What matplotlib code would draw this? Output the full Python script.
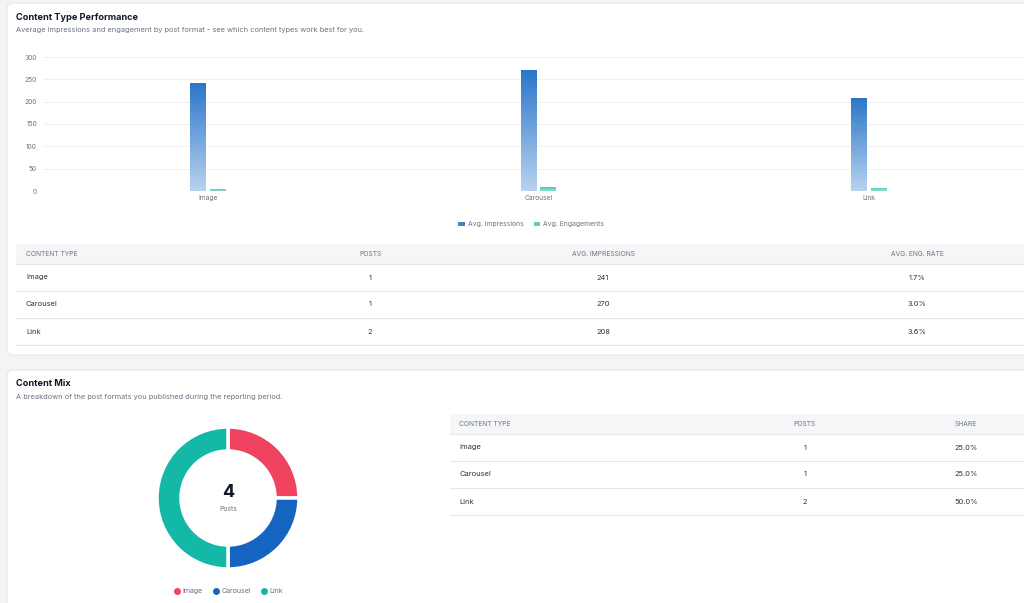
import matplotlib.pyplot as plt
import numpy as np
from matplotlib.colors import LinearSegmentedColormap
from matplotlib.patches import FancyBboxPatch, Rectangle, Patch
from matplotlib.lines import Line2D

plt.rcParams["font.family"] = ["Inter", "DejaVu Sans"]

# Data
content_types = ["Image", "Carousel", "Link"]
posts = [1, 1, 2]
avg_impressions = [241, 270, 208]
avg_engagements = [4, 8, 7]
eng_rate = ["1.7%", "3.0%", "3.6%"]
share = ["25.0%", "25.0%", "50.0%"]
donut_colors = ["#f0435f", "#1565c0", "#14b8a6"]

W, H = 1024, 603
fig = plt.figure(figsize=(W / 100, H / 100), dpi=100)
fig.patch.set_facecolor("#f3f4f6")

# background axes in pixel coordinates
bg = fig.add_axes([0, 0, 1, 1])
bg.set_xlim(0, W)
bg.set_ylim(H, 0)
bg.axis("off")

dark = "#2b3340"
gray = "#6b7280"
line_c = "#e5e7eb"

for y0, y1 in [(3, 355), (370, 640)]:
    bg.add_patch(FancyBboxPatch((7, y0), 1040, y1 - y0, boxstyle="round,pad=0,rounding_size=6",
                                facecolor="white", edgecolor=line_c, linewidth=0.8))

# card 1 headings
bg.text(16, 17, "Content Type Performance", fontsize=6.6, fontweight="bold", color="#111827", va="center")
bg.text(16, 30, "Average impressions and engagement by post format - see which content types work best for you.",
        fontsize=5.3, color=gray, va="center")

# card 2 headings
bg.text(16, 384, "Content Mix", fontsize=6.6, fontweight="bold", color="#111827", va="center")
bg.text(16, 397, "A breakdown of the post formats you published during the reporting period.",
        fontsize=5.3, color=gray, va="center")


def draw_table(x0, x1, top, header_h, row_h, cols, rows):
    bg.add_patch(Rectangle((x0, top), x1 - x0, header_h, facecolor="#f5f6f8", edgecolor="none"))
    bg.plot([x0, x1], [top + header_h, top + header_h], color=line_c, lw=0.8)
    for (label, xpos, ha) in cols:
        bg.text(xpos, top + header_h / 2, label, fontsize=4.8, color=gray, ha=ha, va="center")
    for i, row in enumerate(rows):
        yc = top + header_h + row_h * (i + 0.5)
        for (label, xpos, ha), val in zip(cols, row):
            bg.text(xpos, yc, val, fontsize=5.4, color=dark, ha=ha, va="center")
        yl = top + header_h + row_h * (i + 1)
        bg.plot([x0, x1], [yl, yl], color=line_c, lw=0.8)


rows1 = [[t, str(p), str(a), r] for t, p, a, r in zip(content_types, posts, avg_impressions, eng_rate)]
draw_table(16, 1024, 244, 20, 27,
           [("CONTENT TYPE", 26, "left"), ("POSTS", 370, "center"),
            ("AVG. IMPRESSIONS", 603, "center"), ("AVG. ENG. RATE", 917, "center")], rows1)

rows2 = [[t, str(p), s] for t, p, s in zip(content_types, posts, share)]
draw_table(450, 1024, 414, 20, 27,
           [("CONTENT TYPE", 459, "left"), ("POSTS", 805, "center"), ("SHARE", 966, "center")], rows2)

# bar chart
left_px, right_px, top_px, bot_px = 42.5, 1034.5, 57, 191
ax = fig.add_axes([left_px / W, 1 - bot_px / H, (right_px - left_px) / W, (bot_px - top_px) / H])
ax.set_facecolor("none")
x = np.arange(len(content_types))
bw = 0.048
off = 0.03
b1 = ax.bar(x - off, avg_impressions, width=bw, color="none")
b2 = ax.bar(x + off, avg_engagements, width=bw, color="none")

grad = np.linspace(0, 1, 256).reshape(-1, 1)
cmap_imp = LinearSegmentedColormap.from_list("imp", ["#b9d3f0", "#2b76ca"])
cmap_eng = LinearSegmentedColormap.from_list("eng", ["#8fe0d2", "#4cc9b4"])
for bars, cm in [(b1, cmap_imp), (b2, cmap_eng)]:
    for p in bars:
        bx, by = p.get_x(), p.get_y()
        im = ax.imshow(grad, extent=[bx, bx + p.get_width(), by, by + p.get_height()],
                       origin="lower", cmap=cm, aspect="auto", zorder=2)
        im.set_clip_path(p)

ax.set_xlim(-0.5, 2.5)
ax.set_ylim(0, 300)
ax.set_yticks(range(0, 301, 50))
ax.set_xticks(x)
ax.set_xticklabels(content_types)
ax.grid(axis="y", color="#eef0f3", linewidth=0.7)
ax.set_axisbelow(True)
for s in ax.spines.values():
    s.set_visible(False)
ax.tick_params(length=0, labelsize=4.8, labelcolor=gray)
ax.tick_params(axis="y", pad=4)
ax.tick_params(axis="x", pad=3)

fig.legend(handles=[Patch(facecolor="#3b82d6", label="Avg. Impressions"),
                    Patch(facecolor="#5ccfbc", label="Avg. Engagements")],
           loc="center", bbox_to_anchor=(531 / W, 1 - 224 / H), ncol=2, frameon=False,
           fontsize=4.9, labelcolor=gray, handlelength=1.0, handleheight=0.5,
           handletextpad=0.4, columnspacing=1.5)

# donut
cx, cy, R = 228, 498, 71
box = 160
dax = fig.add_axes([(cx - box / 2) / W, 1 - (cy + box / 2) / H, box / W, box / H])
dax.pie(posts, colors=donut_colors, startangle=90, counterclock=False, radius=1,
        wedgeprops=dict(width=24 / R, edgecolor="white", linewidth=2.5))
lim = box / 2 / R
dax.set_xlim(-lim, lim)
dax.set_ylim(-lim, lim)
dax.set_aspect("equal")
dax.text(0, 0.08, str(sum(posts)), fontsize=13, fontweight="bold", color="#111827", ha="center", va="center")
dax.text(0, -0.15, "Posts", fontsize=4.8, color=gray, ha="center", va="center")

fig.legend(handles=[Line2D([], [], marker="o", ls="none", color=c, markersize=4, label=t)
                    for c, t in zip(donut_colors, content_types)],
           loc="center", bbox_to_anchor=(229 / W, 1 - 591 / H), ncol=3, frameon=False,
           fontsize=5.1, labelcolor=gray, handlelength=0.6, handletextpad=0.5, columnspacing=1.5)

fig.savefig("out.png", dpi=100, facecolor=fig.get_facecolor())
